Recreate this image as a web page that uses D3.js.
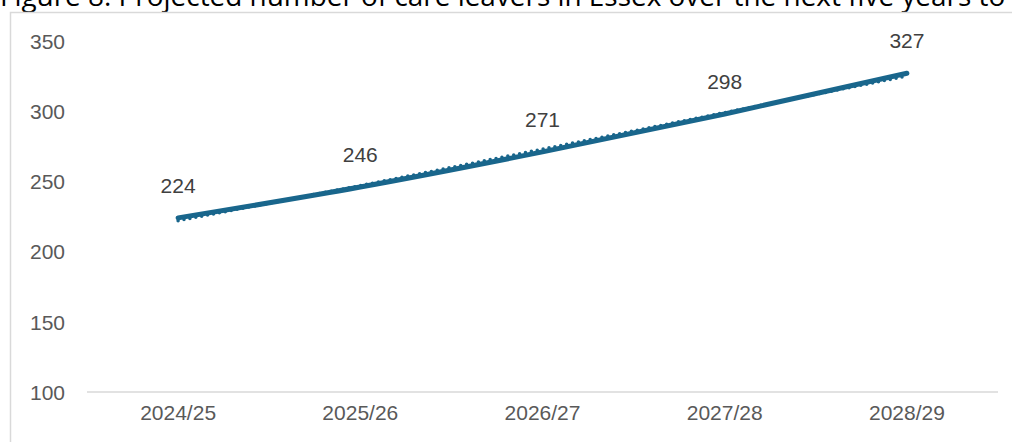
<!DOCTYPE html>
<html><head><meta charset="utf-8">
<script src="https://cdn.jsdelivr.net/npm/d3@7"></script>
<style>html,body{margin:0;padding:0;background:#fff;overflow:hidden}</style>
</head><body>
<svg id="c" width="1012" height="442"></svg>
<script>
const title = "Figure 8: Projected number of care leavers in Essex over the next five years to";
const categories = ["2024/25","2025/26","2026/27","2027/28","2028/29"];
const values = [224, 246, 271, 298, 327];
const trendValues = [222, 247, 273, 299, 325];
const yTicks = [100, 150, 200, 250, 300, 350];

const svg = d3.select("#c");
const color = "#19668c";
const textColor = "#595959";

// title (clipped at the top, as in the reference)
const t = svg.append("text").attr("x", 0).attr("y", 6)
  .attr("font-family", "Open Sans").attr("font-size", 21).attr("fill", "#000")
  .text(title);
const tl = t.node().getComputedTextLength();
t.attr("font-size", 21 * 1006 / tl);

// chart border
svg.append("rect").attr("x", 10.5).attr("y", 12.5).attr("width", 1100).attr("height", 500)
  .attr("fill", "none").attr("stroke", "#d9d9d9").attr("stroke-width", 1.5);

const x = d3.scaleBand().domain(categories).range([87, 998]);
const y = d3.scaleLinear().domain([100, 350]).range([392, 41]);
const cx = d => x(d) + x.bandwidth() / 2;

// baseline
svg.append("line").attr("x1", 87).attr("x2", 998).attr("y1", y(100)).attr("y2", y(100))
  .attr("stroke", "#d9d9d9").attr("stroke-width", 1.5);

// y axis labels
const yAxis = d3.axisLeft(y).tickValues(yTicks).tickSize(0).tickPadding(0);
const gy = svg.append("g").attr("transform", "translate(65,0)").call(yAxis);
gy.select(".domain").remove();
gy.selectAll("text").attr("font-family", "Liberation Sans").attr("font-size", 21)
  .attr("fill", textColor).attr("dy", "0.35em");

// x axis labels
const xAxis = d3.axisBottom(x).tickSize(0).tickPadding(0);
const gx = svg.append("g").attr("transform", "translate(0,413)").call(xAxis);
gx.select(".domain").remove();
gx.selectAll("text").attr("font-family", "Liberation Sans").attr("font-size", 21)
  .attr("fill", textColor).attr("dy", "0.35em");

// trendline (dotted)
const trendLine = d3.line().x((d, i) => cx(categories[i])).y(d => y(d));
svg.append("path").attr("d", trendLine(trendValues)).attr("fill", "none")
  .attr("stroke", color).attr("stroke-width", 3.5).attr("stroke-linecap", "round")
  .attr("stroke-dasharray", "0 6");

// main line
const line = d3.line().x((d, i) => cx(categories[i])).y(d => y(d)).curve(d3.curveMonotoneX);
svg.append("path").attr("d", line(values)).attr("fill", "none")
  .attr("stroke", color).attr("stroke-width", 5).attr("stroke-linecap", "round");

// data labels
svg.append("g").selectAll("text").data(values).join("text")
  .attr("x", (d, i) => cx(categories[i])).attr("y", d => y(d) - 25)
  .attr("text-anchor", "middle").attr("font-family", "Liberation Sans").attr("font-size", 21)
  .attr("fill", "#404040").text(d => d);
</script>
</body></html>
